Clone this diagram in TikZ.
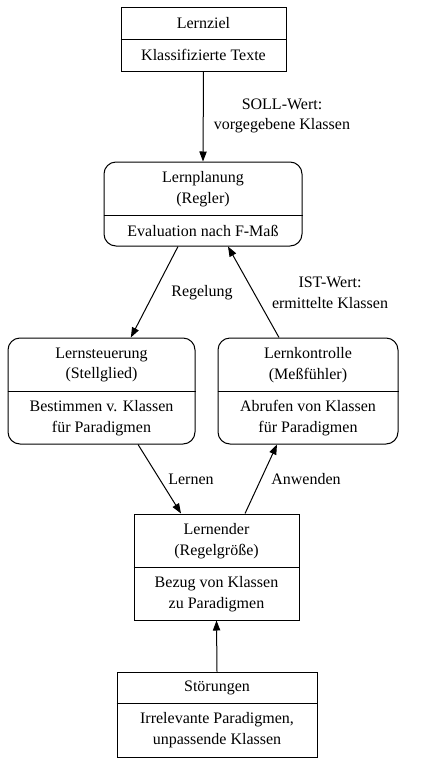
\documentclass[tikz,border=0pt]{standalone}
\usepackage{fontspec}
\setmainfont{Liberation Serif}
\usetikzlibrary{arrows.meta}

\tikzset{
  rec/.style={draw, line width=0.75pt, inner sep=0pt},
  recr/.style={rec, rounded corners=9pt},
  txt/.style={inner sep=0.75pt, align=center, font=\fontsize{12}{15.4}\selectfont},
  pfeil/.style={-{Triangle[length=7.5pt,width=5.5pt]}, line width=0.75pt},
}

\begin{document}
\begin{tikzpicture}[x=0.75pt,y=0.75pt,yscale=-1,xscale=1]
\useasboundingbox (0,0) rectangle (427,764);

%Shape: Record [Lernziel]
\node[rec, minimum width=123.75pt, minimum height=48pt] (ziel) at (203.5,39) {};
\draw (ziel.west |- 0,39) -- (ziel.east |- 0,39) ;
\node[txt] (ziel-t) at (203.5,23) {Lernziel};
\node[txt] (ziel-b) at (203.5,55) {Klassifizierte Texte};

%Shape: Record [Lernplanung]
\node[recr, minimum width=148.5pt, minimum height=63pt] (plan) at (203,204) {};
\draw (plan.west |- 0,215) -- (plan.east |- 0,215) ;
\node[txt] (plan-t) at (203,189) {Lernplanung\\(Regler)};
\node[txt] (plan-b) at (203,231) {Evaluation nach F-Maß};

%Shape: Record [Lernsteuerung]
\node[recr, minimum width=140.25pt, minimum height=79.5pt] (steu) at (101.5,391) {};
\draw (steu.west |- 0,391) -- (steu.east |- 0,391) ;
\node[txt] (steu-t) at (101.5,365) {Lernsteuerung\\(Stellglied)};
\node[txt] (steu-b) at (101.5,418) {Bestimmen v. Klassen\\für Paradigmen};

%Shape: Record [Lernkontrolle]
\node[recr, minimum width=135pt, minimum height=79.5pt] (kontr) at (308,391) {};
\draw (kontr.west |- 0,391) -- (kontr.east |- 0,391) ;
\node[txt] (kontr-t) at (308,365) {Lernkontrolle\\(Meßfühler)};
\node[txt] (kontr-b) at (308,418) {Abrufen von Klassen\\für Paradigmen};

%Shape: Record [Lernender]
\node[rec, minimum width=123.75pt, minimum height=79.5pt] (lern) at (216.5,567) {};
\draw (lern.west |- 0,567) -- (lern.east |- 0,567) ;
\node[txt] (lern-t) at (216.5,541) {Lernender\\(Regelgröße)};
\node[txt] (lern-b) at (216.5,594) {Bezug von Klassen\\zu Paradigmen};

%Shape: Record [Stoerungen]
\node[rec, minimum width=150pt, minimum height=63.75pt] (stoer) at (217,714.5) {};
\draw (stoer.west |- 0,703) -- (stoer.east |- 0,703) ;
\node[txt] (stoer-t) at (217,688) {Störungen};
\node[txt] (stoer-b) at (217,730) {Irrelevante Paradigmen,\\unpassende Klassen};

%Straight Lines [Pfeile]
\draw[pfeil] (ziel.south) -- (plan.north) ;
\draw[pfeil] ([xshift=-18.75pt]plan.south) -- ([xshift=22pt]steu.north) ;
\draw[pfeil] ([xshift=-21.75pt]kontr.north) -- ([xshift=18.75pt]plan.south) ;
\draw[pfeil] ([xshift=27.4pt]steu.south) -- ([xshift=-26.6pt]lern.north) ;
\draw[pfeil] ([xshift=21.4pt]lern.north) -- ([xshift=-23.25pt]kontr.south) ;
\draw[pfeil] (stoer.north) -- (lern.south) ;

% Text Node
\node[txt] (soll) at (282,116) {SOLL-Wert:\\vorgegebene Klassen};
\node[txt] (regelung) at (202,293) {Regelung};
\node[txt] (ist) at (330,293) {IST-Wert:\\ermittelte Klassen};
\node[txt] (lernen) at (191,479) {Lernen};
\node[txt] (anwenden) at (306,479) {Anwenden};

\end{tikzpicture}
\end{document}
